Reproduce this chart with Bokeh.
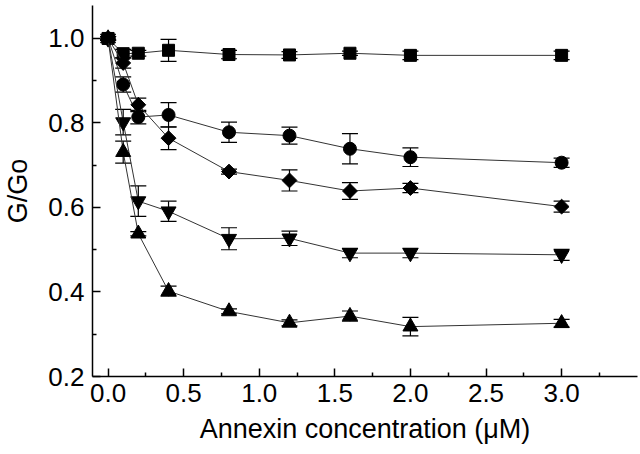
import math
from bokeh.plotting import figure
from bokeh.models import ColumnDataSource, Whisker, TeeHead, FixedTicker, Range1d
from bokeh.embed import file_html
from bokeh.resources import INLINE

conc = [0.0, 0.1, 0.2, 0.4, 0.8, 1.2, 1.6, 2.0, 3.0]

sq_y = [1.0, 0.964, 0.965, 0.972, 0.962, 0.961, 0.965, 0.960, 0.960]
sq_e = [0.004, 0.010, 0.007, 0.026, 0.010, 0.008, 0.005, 0.010, 0.010]

ci_y = [1.0, 0.891, 0.814, 0.819, 0.778, 0.770, 0.739, 0.719, 0.706]
ci_e = [0.004, 0.018, 0.016, 0.029, 0.024, 0.020, 0.036, 0.022, 0.011]

di_y = [1.0, 0.942, 0.843, 0.764, 0.685, 0.664, 0.639, 0.646, 0.602]
di_e = [0.004, 0.012, 0.016, 0.027, 0.006, 0.025, 0.020, 0.011, 0.013]

dt_y = [1.0, 0.802, 0.615, 0.591, 0.526, 0.527, 0.492, 0.492, 0.488]
dt_e = [0.004, 0.030, 0.036, 0.024, 0.026, 0.017, 0.011, 0.011, 0.013]

ut_y = [1.0, 0.731, 0.538, 0.402, 0.354, 0.327, 0.343, 0.318, 0.326]
ut_e = [0.004, 0.026, 0.005, 0.012, 0.006, 0.007, 0.012, 0.022, 0.009]

x_ticks = [0.0, 0.5, 1.0, 1.5, 2.0, 2.5, 3.0]
x_tick_labels = ["0.0", "0.5", "1.0", "1.5", "2.0", "2.5", "3.0"]
x_minor = [0.25, 0.75, 1.25, 1.75, 2.25, 2.75, 3.25]
y_ticks = [0.2, 0.4, 0.6, 0.8, 1.0]
y_tick_labels = ["0.2", "0.4", "0.6", "0.8", "1.0"]
y_minor = [0.3, 0.5, 0.7, 0.9]

FONT = "Liberation Sans"

p = figure(width=640, height=454, output_backend="svg", toolbar_location=None,
           x_range=Range1d(-0.103, 3.502), y_range=Range1d(0.2, 1.078),
           min_border_left=89, min_border_right=3, min_border_top=5, min_border_bottom=78)
p.outline_line_color = None
p.xgrid.grid_line_color = None
p.ygrid.grid_line_color = None
p.background_fill_color = "white"

series = [
    (sq_y, sq_e, "square", 12, 0.0),
    (ci_y, ci_e, "circle", 13, 0.0),
    (di_y, di_e, "square", 10.5, math.pi / 4),
    (dt_y, dt_e, "inverted_triangle", 15, 0.0),
    (ut_y, ut_e, "triangle", 15, 0.0),
]

for ys, es, marker, size, ang in series:
    src = ColumnDataSource(dict(
        x=conc, y=ys,
        upper=[a + b for a, b in zip(ys, es)],
        lower=[a - b for a, b in zip(ys, es)],
    ))
    p.line("x", "y", source=src, line_color="#333333", line_width=1)
    w = Whisker(source=src, base="x", upper="upper", lower="lower",
                line_color="black", line_width=1.2,
                upper_head=TeeHead(size=16, line_color="black", line_width=1.2),
                lower_head=TeeHead(size=16, line_color="black", line_width=1.2))
    p.add_layout(w)
    p.scatter("x", "y", source=src, marker=marker, size=size, angle=ang,
              fill_color="black", line_color="black")

for ax in (p.xaxis[0], p.yaxis[0]):
    ax.axis_line_width = 1.5
    ax.axis_line_color = "black"
    ax.major_tick_in = 8
    ax.major_tick_out = 0
    ax.minor_tick_in = 4
    ax.minor_tick_out = 0
    ax.major_tick_line_width = 1.5
    ax.minor_tick_line_width = 1.5
    ax.major_label_text_font = FONT
    ax.major_label_text_font_size = "26px"
    ax.major_label_text_color = "black"
    ax.axis_label_text_font = FONT
    ax.axis_label_text_font_size = "27px"
    ax.axis_label_text_font_style = "normal"
    ax.axis_label_text_color = "black"

p.xaxis.ticker = FixedTicker(ticks=x_ticks, minor_ticks=x_minor)
p.xaxis.major_label_overrides = dict(zip(x_ticks, x_tick_labels))
p.yaxis.ticker = FixedTicker(ticks=y_ticks, minor_ticks=y_minor)
p.yaxis.major_label_overrides = dict(zip(y_ticks, y_tick_labels))
p.xaxis.axis_label = "Annexin concentration (\u03bcM)"
p.yaxis.axis_label = "G/Go"
p.xaxis.major_label_standoff = 7
p.yaxis.major_label_standoff = 8
p.xaxis.axis_label_standoff = 9
p.yaxis.axis_label_standoff = 12

open("out.html", "w").write(file_html(p, INLINE))
